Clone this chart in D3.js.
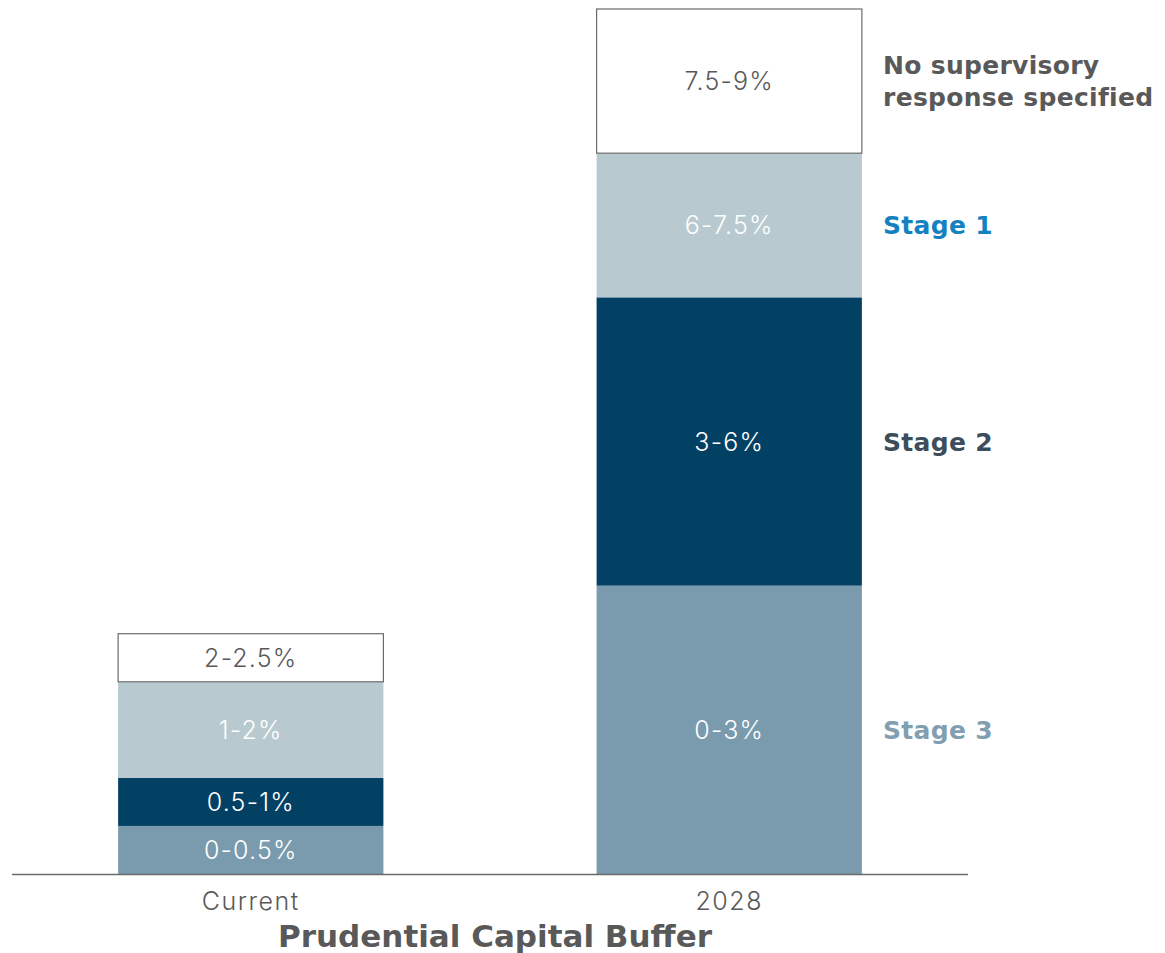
<!DOCTYPE html>
<html>
<head>
<meta charset="utf-8">
<title>Prudential Capital Buffer</title>
<script src="https://d3js.org/d3.v7.min.js"></script>
<style>
  body { margin: 0; background: #fff; }
  svg { display: block; }
  .seg-label { font-family: "Inter", "DejaVu Sans", sans-serif; font-weight: 300; font-size: 25px; letter-spacing: 1.2px; }
  .stage { font-family: "DejaVu Sans", sans-serif; font-weight: bold; font-size: 25px; letter-spacing: 0.3px; }
  .cat { font-family: "Inter", "DejaVu Sans", sans-serif; font-weight: 300; font-size: 25px; letter-spacing: 1.5px; fill: #595959; }
  .title { font-family: "DejaVu Sans", sans-serif; font-weight: bold; font-size: 31px; fill: #595959; }
</style>
</head>
<body>
<svg id="chart" width="1165" height="953"></svg>
<script>
// categories and stacked ranges (percent of RWA)
var categories = ["Current", "2028"];
var currentValues = [0.5, 0.5, 1, 0.5];
var futureValues = [3, 3, 1.5, 1.5];
var currentLabels = ["0-0.5%", "0.5-1%", "1-2%", "2-2.5%"];
var futureLabels = ["0-3%", "3-6%", "6-7.5%", "7.5-9%"];
var stageNames = [["Stage 3"], ["Stage 2"], ["Stage 1"], ["No supervisory", "response specified"]];

var fills = ["#7a9aad", "#024064", "#b8c9d0", "#ffffff"];
var textFills = ["#ffffff", "#ffffff", "#ffffff", "#595959"];
var stageColors = ["#819fb1", "#3c4d5b", "#1482c0", "#595959"];

var svg = d3.select("#chart");
var baseY = 874;

var x = d3.scaleBand().domain(categories).range([0, 956]).paddingInner(0.4456).paddingOuter(0.2218);
var y = d3.scaleLinear().domain([0, 9]).range([baseY, 9]);

var g = svg.append("g").attr("transform", "translate(12,0)");

var seriesData = [currentValues, futureValues];
var seriesLabels = [currentLabels, futureLabels];

categories.forEach(function(cat, ci) {
  var acc = 0;
  seriesData[ci].forEach(function(v, si) {
    var y0 = acc, y1 = acc + v;
    acc = y1;
    g.append("rect")
      .attr("x", x(cat))
      .attr("y", y(y1))
      .attr("width", x.bandwidth())
      .attr("height", y(y0) - y(y1))
      .attr("fill", fills[si])
      .attr("stroke", si === 3 ? "#6b6b6b" : "none")
      .attr("stroke-width", 1.2);
    g.append("text")
      .attr("class", "seg-label")
      .attr("x", x(cat) + x.bandwidth() / 2)
      .attr("y", (y(y0) + y(y1)) / 2)
      .attr("dy", "0.36em")
      .attr("text-anchor", "middle")
      .attr("fill", textFills[si])
      .text(seriesLabels[ci][si]);
  });
});

// stage labels to the right of the 2028 bar
var acc2 = 0;
futureValues.forEach(function(v, si) {
  var mid = (y(acc2) + y(acc2 + v)) / 2;
  acc2 += v;
  var lines = stageNames[si];
  var t = svg.append("text")
    .attr("class", "stage")
    .attr("fill", stageColors[si])
    .attr("x", 883)
    .attr("y", mid - (lines.length - 1) * 16);
  lines.forEach(function(l, li) {
    t.append("tspan").attr("x", 883).attr("dy", li === 0 ? "0.36em" : "32px").text(l);
  });
});

// axis line
svg.append("line")
  .attr("x1", 12).attr("x2", 968)
  .attr("y1", baseY + 0.5).attr("y2", baseY + 0.5)
  .attr("stroke", "#6b6b6b").attr("stroke-width", 1.5);

// category labels
categories.forEach(function(cat) {
  svg.append("text")
    .attr("class", "cat")
    .attr("x", 12 + x(cat) + x.bandwidth() / 2)
    .attr("y", 910)
    .attr("text-anchor", "middle")
    .text(cat);
});

svg.append("text")
  .attr("class", "title")
  .attr("x", 495)
  .attr("y", 947)
  .attr("text-anchor", "middle")
  .text("Prudential Capital Buffer");
</script>
</body>
</html>
